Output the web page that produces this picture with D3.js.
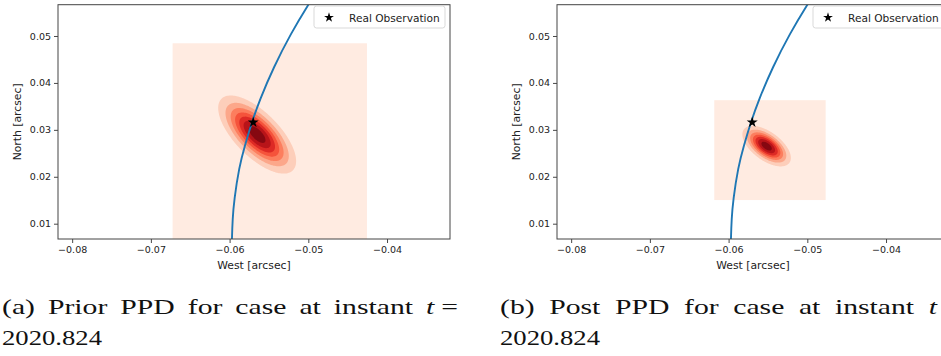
<!DOCTYPE html>
<html>
<head>
<meta charset="utf-8">
<script src="https://cdn.jsdelivr.net/npm/d3@7"></script>
<style>
  body { margin: 0; background: #fff; }
  svg { display: block; }
</style>
</head>
<body>
<svg id="fig" width="941" height="356"></svg>
<script>
// ---- data -------------------------------------------------------------
const xTicks = [-0.08, -0.07, -0.06, -0.05, -0.04];
const yTicks = [0.01, 0.02, 0.03, 0.04, 0.05];
const xLimits = [-0.0818, -0.0320];
const yLimits = [0.00674, 0.05667];

// orbit track (West, North) in arcsec
const orbitWest  = [-0.05975, -0.05971, -0.05962, -0.05943, -0.05879, -0.05809, -0.05717, -0.05619, -0.05441, -0.05219, -0.05005, -0.04840];
const orbitNorth = [ 0.00245,  0.00671,  0.01097,  0.01502,  0.02205,  0.02653,  0.03164,  0.03633,  0.04336,  0.05061,  0.05658,  0.06084];

// observed position
const observation = [-0.0570, 0.0316];

// predictive density summaries: mean (West, North), std (West, North), correlation
const priorMean = [-0.0565, 0.0290];
const priorStd  = [0.00245, 0.00412];
const priorRho  = -0.68;
const priorGridWest  = [-0.06724, -0.04255];
const priorGridNorth = [ 0.00000,  0.04845];

const postMean = [-0.05517, 0.02653];
const postStd  = [0.001525, 0.00214];
const postRho  = -0.58;
const postGridWest  = [-0.06182, -0.04767];
const postGridNorth = [ 0.01504,  0.03632];

// filled-contour levels, as fractions of the peak density
const contourLevels = [0.13, 0.26, 0.39, 0.52, 0.65, 0.78, 0.91];

const legendLabel = "Real Observation";
const xLabel = "West [arcsec]";
const yLabel = "North [arcsec]";

const captionA = ["(a)", "Prior", "PPD", "for", "case", "at", "instant"];
const captionB = ["(b)", "Post", "PPD", "for", "case", "at", "instant"];
const captionMathA = ["t", "="];
const captionMathB = ["t"];
const captionDate = "2020.824";

// ---- layout -------------------------------------------------------------
const svg = d3.select("#fig");
const axW = 392, axTop = 4.7, axBottom = 239;
const panelOffsets = [58, 557];
const sansFont = "'DejaVu Sans', sans-serif";
const serifFont = "'Liberation Serif', 'Times New Roman', serif";

// matplotlib-style linear Reds colormap
const redsStops = ["#fff5f0", "#fee0d2", "#fcbba1", "#fc9272", "#fb6a4a", "#ef3b2c", "#cb181d", "#a50f15", "#67000d"];
const reds = d3.scaleLinear().domain(d3.range(9).map(i => i / 8)).range(redsStops).interpolate(d3.interpolateRgb);
const nBands = contourLevels.length + 1;
const bandColor = i => reds((i + 0.5) / nBands);

function drawPanel(idx, left, mean, std, rho, gridWest, gridNorth) {
  const x = d3.scaleLinear().domain(xLimits).range([left, left + axW]);
  const y = d3.scaleLinear().domain(yLimits).range([axBottom, axTop]);
  const g = svg.append("g");

  const clipId = "clip" + idx;
  g.append("clipPath").attr("id", clipId)
    .append("rect").attr("x", left).attr("y", axTop)
    .attr("width", axW).attr("height", axBottom - axTop);

  const plot = g.append("g").attr("clip-path", `url(#${clipId})`);

  // lowest band: the full evaluation grid
  plot.append("rect")
    .attr("x", x(gridWest[0])).attr("y", y(gridNorth[1]))
    .attr("width", x(gridWest[1]) - x(gridWest[0]))
    .attr("height", y(gridNorth[0]) - y(gridNorth[1]))
    .attr("fill", bandColor(0));

  // density on a regular grid
  const n = 180, m = 180;
  const values = new Float64Array(n * m);
  for (let j = 0; j < m; j++) {
    const yy = gridNorth[0] + (j + 0.5) / m * (gridNorth[1] - gridNorth[0]);
    for (let i = 0; i < n; i++) {
      const xx = gridWest[0] + (i + 0.5) / n * (gridWest[1] - gridWest[0]);
      const dx = (xx - mean[0]) / std[0], dy = (yy - mean[1]) / std[1];
      const q = (dx * dx - 2 * rho * dx * dy + dy * dy) / (1 - rho * rho);
      values[j * n + i] = Math.exp(-q / 2);
    }
  }
  const bands = d3.contours().size([n, m]).thresholds(contourLevels)(values);
  const proj = d3.geoTransform({
    point(px, py) {
      this.stream.point(
        x(gridWest[0] + px / n * (gridWest[1] - gridWest[0])),
        y(gridNorth[0] + py / m * (gridNorth[1] - gridNorth[0])));
    }
  });
  const path = d3.geoPath(proj);
  plot.selectAll("path.band").data(bands).join("path")
    .attr("class", "band")
    .attr("d", path)
    .attr("fill", (d, i) => bandColor(i + 1));

  // orbit
  const orbit = orbitWest.map((w, i) => [w, orbitNorth[i]]);
  plot.append("path")
    .attr("d", d3.line().x(d => x(d[0])).y(d => y(d[1])).curve(d3.curveBasis)(orbit))
    .attr("fill", "none").attr("stroke", "#1f77b4").attr("stroke-width", 1.9);

  // observation marker
  plot.append("path")
    .attr("d", d3.symbol(d3.symbolStar, 38)())
    .attr("transform", `translate(${x(observation[0])},${y(observation[1])})`)
    .attr("fill", "#000");

  // axes
  const fmt = d3.format(".2f");
  const xAxis = g.append("g").attr("transform", `translate(0,${axBottom})`)
    .call(d3.axisBottom(x).tickValues(xTicks).tickSize(4).tickPadding(3).tickFormat(fmt));
  const yAxis = g.append("g").attr("transform", `translate(${left},0)`)
    .call(d3.axisLeft(y).tickValues(yTicks).tickSize(4).tickPadding(3).tickFormat(fmt));
  [xAxis, yAxis].forEach(a => {
    a.select(".domain").remove();
    a.selectAll(".tick line").attr("stroke", "#333").attr("stroke-width", 0.9);
    a.selectAll(".tick text").attr("fill", "#222")
      .style("font-family", sansFont).style("font-size", "9.5px");
  });

  // frame
  g.append("rect").attr("x", left).attr("y", axTop)
    .attr("width", axW).attr("height", axBottom - axTop)
    .attr("fill", "none").attr("stroke", "#444").attr("stroke-width", 1);

  // axis labels
  g.append("text").attr("x", left + axW / 2).attr("y", 269)
    .attr("text-anchor", "middle").attr("fill", "#222")
    .style("font-family", sansFont).style("font-size", "10.8px").text(xLabel);
  g.append("text")
    .attr("transform", `translate(${left - 37},${(axTop + axBottom) / 2}) rotate(-90)`)
    .attr("text-anchor", "middle").attr("fill", "#222")
    .style("font-family", sansFont).style("font-size", "10.8px").text(yLabel);

  // legend
  const lx = left + axW - 136, ly = 6;
  const leg = g.append("g");
  leg.append("rect").attr("x", lx).attr("y", ly).attr("width", 131).attr("height", 22)
    .attr("rx", 2.5).attr("fill", "#fff").attr("fill-opacity", 0.85)
    .attr("stroke", "#d5d5d5").attr("stroke-width", 0.9);
  leg.append("path").attr("d", d3.symbol(d3.symbolStar, 30)())
    .attr("transform", `translate(${lx + 15},${ly + 11.5})`).attr("fill", "#000");
  leg.append("text").attr("x", lx + 35).attr("y", ly + 15.5).attr("fill", "#222")
    .style("font-family", sansFont).style("font-size", "10.6px").text(legendLabel);
}

drawPanel(0, panelOffsets[0], priorMean, priorStd, priorRho, priorGridWest, priorGridNorth);
drawPanel(1, panelOffsets[1], postMean, postStd, postRho, postGridWest, postGridNorth);

// ---- sub-captions (justified first line, wrapped date) ---------------------
const capSize = 21, wordGap = 13, mathGap = 7;
function measure(txt, italic) {
  const t = svg.append("text").style("font-family", serifFont).style("font-size", capSize + "px")
    .style("font-style", italic ? "italic" : "normal").text(txt);
  const w = t.node().getComputedTextLength();
  t.remove();
  return w;
}
const tokensOf = (words, math) => words.map(w => ({ txt: w, italic: false }))
  .concat(math.map((s, i) => ({ txt: s, italic: i === 0, math: true })));
const tokA = tokensOf(captionA, captionMathA), tokB = tokensOf(captionB, captionMathB);
tokA.concat(tokB).forEach(t => t.w = measure(t.txt, t.italic));
const lineA = [2, 458], lineB = [500, 937];
const scaleH = (lineA[1] - lineA[0] - captionA.length * wordGap - mathGap) / d3.sum(tokA, t => t.w);

function drawCaption(tokens, span, baseline) {
  const nat = d3.sum(tokens, t => t.w) * scaleH;
  const nMath = tokens.filter(t => t.math).length - 1;
  const nWordGaps = tokens.length - 1 - nMath;
  const gap = (span[1] - span[0] - nat - nMath * mathGap) / nWordGaps;
  let cx = span[0];
  tokens.forEach((t, i) => {
    if (i > 0) cx += (t.math && tokens[i - 1].math) ? mathGap : gap;
    svg.append("text").attr("x", cx).attr("y", baseline)
      .attr("textLength", t.w * scaleH).attr("lengthAdjust", "spacingAndGlyphs")
      .attr("fill", "#111")
      .style("font-family", serifFont).style("font-size", capSize + "px")
      .style("font-style", t.italic ? "italic" : "normal").text(t.txt);
    cx += t.w * scaleH;
  });
  svg.append("text").attr("x", span[0]).attr("y", baseline + 31)
    .attr("textLength", 100).attr("lengthAdjust", "spacingAndGlyphs").attr("fill", "#111")
    .style("font-family", serifFont).style("font-size", capSize + "px").text(captionDate);
}
drawCaption(tokA, lineA, 314);
drawCaption(tokB, lineB, 314);
</script>
</body>
</html>
